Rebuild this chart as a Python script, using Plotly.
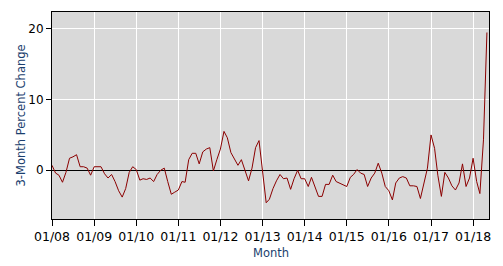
import pandas as pd
import plotly.graph_objects as go

start_month = "2008-01-01"
v2008 = [0.7, -0.4, -0.7, -1.7, -0.3, 1.7, 1.9, 2.2, 0.5, 0.5, 0.3, -0.7]
v2009 = [0.5, 0.5, 0.5, -0.5, -1.1, -0.6, -1.6, -2.9, -3.8, -2.6, -0.3, 0.5]
v2010 = [0.1, -1.4, -1.2, -1.3, -1.1, -1.6, -0.6, 0.0, 0.3, -1.6, -3.4, -3.1]
v2011 = [-2.8, -1.6, -1.7, 1.5, 2.4, 2.4, 0.9, 2.6, 3.0, 3.2, -0.1, 1.5]
v2012 = [3.0, 5.5, 4.6, 2.5, 1.6, 0.7, 1.5, 0.0, -1.5, 0.3, 3.2, 4.2]
v2013 = [0.0, -4.6, -4.1, -2.6, -1.5, -0.6, -1.2, -1.1, -2.7, -1.2, 0.0, -1.2]
v2014 = [-1.2, -2.3, -1.0, -2.4, -3.7, -3.7, -2.0, -2.0, -0.7, -1.6, -1.8, -2.1]
v2015 = [-2.3, -1.0, -0.6, 0.1, -0.4, -0.6, -2.3, -1.1, -0.4, 1.0, -0.4, -2.3]
v2016 = [-2.9, -4.2, -1.8, -1.1, -0.9, -1.1, -2.2, -2.2, -2.3, -4.0, -1.8, 0.3]
v2017 = [5.0, 3.1, -0.7, -3.7, -0.3, -1.1, -2.2, -2.8, -1.8, 0.9, -2.3, -1.1]
v2018 = [1.7, -1.6, -3.3, 4.3, 19.5]

values = v2008 + v2009 + v2010 + v2011 + v2012 + v2013 + v2014 + v2015 + v2016 + v2017 + v2018
months = pd.date_range(start_month, periods=len(values), freq="MS")

y_tick_vals = [0, 10, 20]
x_title = "Month"
y_title = "3-Month Percent Change"

font_family = "DejaVu Sans, Verdana, sans-serif"
title_color = "#1a3e6e"

fig = go.Figure()
fig.add_trace(go.Scatter(
    x=months, y=values, mode="lines",
    line=dict(color="#8b0000", width=1),
    hoverinfo="skip", showlegend=False,
))

fig.update_layout(
    width=503, height=266,
    margin=dict(l=52, r=14, t=12, b=47),
    paper_bgcolor="white",
    plot_bgcolor="#d9d9d9",
    font=dict(family=font_family, size=12, color="black"),
    showlegend=False,
    annotations=[
        dict(text=y_title, xref="paper", yref="paper", x=0, y=0.5,
             xanchor="center", yanchor="middle", xshift=-32, textangle=-90,
             showarrow=False, font=dict(family=font_family, size=11.5, color=title_color)),
        dict(text=x_title, xref="paper", yref="paper", x=0.5, y=0,
             xanchor="center", yanchor="middle", yshift=-34,
             showarrow=False, font=dict(family=font_family, size=11.5, color=title_color)),
    ],
)

fig.update_xaxes(
    type="date",
    range=["2008-01-01", "2018-05-19"],
    tick0="2008-01-01", dtick="M12", tickformat="%m/%y",
    ticks="outside", ticklen=6, tickcolor="black", tickwidth=1,
    showgrid=True, gridcolor="white", gridwidth=1,
    showline=True, linecolor="black", linewidth=1, mirror=True,
    zeroline=False,
    tickfont=dict(size=12.5, color="black"),
)
fig.update_yaxes(
    range=[-6.9, 22.4],
    tickvals=y_tick_vals,
    ticks="outside", ticklen=5, tickcolor="black", tickwidth=1,
    showgrid=True, gridcolor="white", gridwidth=1,
    showline=True, linecolor="black", linewidth=1, mirror=True,
    zeroline=True, zerolinecolor="black", zerolinewidth=1,
    tickfont=dict(size=12, color="black"),
)

fig.write_html("out.html")
